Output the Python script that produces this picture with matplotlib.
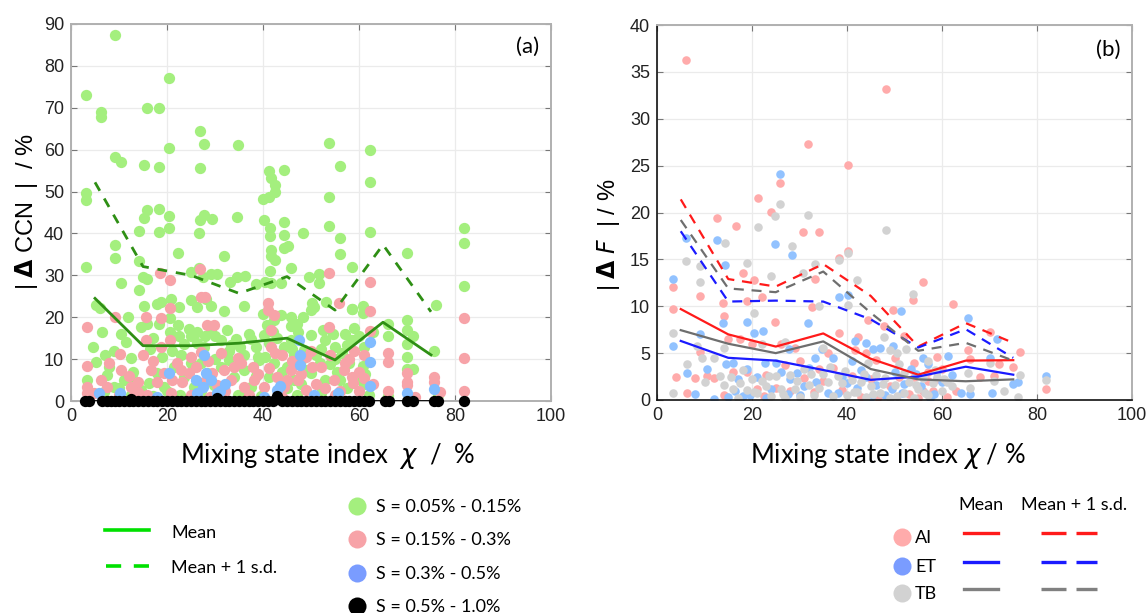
import matplotlib
matplotlib.use("Agg")
import matplotlib.pyplot as plt
from matplotlib.lines import Line2D

W, H = 1147, 613

# ---------------- data: panel (a) ----------------
bins = [5, 15, 25, 35, 45, 55, 65, 75]
a_mean = [24.5, 13.2, 13.2, 13.8, 15.0, 9.8, 18.8, 11.0]
a_mean_sd = [52.2, 32.1, 30.0, 25.7, 29.7, 21.7, 37.3, 21.3]
a_black_mean = [0, 0, 0, 0, 0, 0, 0, 0]

a_green = [(3.1,73.1),(3.1,49.6),(3.1,48),(3.1,32.1),(6.3,69.1),(6.3,67.8),(9.1,87.4),(9.1,58.2),(10.4,57),
    (15.8,69.9),(18.4,69.9),(20.5,77.2),(20.5,60.5),(15.2,56.3),(18.4,55.8),(26.9,64.5),(27.8,61.4),(26.9,55.7),
    (34.7,61.1),(53.8,61.5),(56.1,56),(62.3,59.9),(62.3,52.4),(62.3,40.3),(53.8,48.8),(53.8,41.8),(56.1,38.8),
    (56.1,35),(58.6,32.1),(58.6,22),(41.2,54.8),(41.6,53.2),(42.6,51.6),(42.6,49.8),(40,48.2),(41.2,48.8),(44.3,55.2),
    (40.2,43.2),(41.4,41.2),(41.4,39.3),(44.3,42.7),(44.3,39.6),(45.3,36.9),(44.3,36.5),(41.6,36.1),(41.6,34.5),
    (42.5,33.7),(45.8,31.7),(41.4,31.1),(48.4,40),(81.8,41.2),(81.8,37.7),(81.8,27.5),(70.1,35.3),
    (18.3,45.8),(20.5,44.2),(20.5,41.2),(18.3,40.3),(15.8,45.5),(15.2,43.6),(14.2,40.6),(9.1,37.2),(9.1,34.2),
    (10.4,28.1),(34.6,44),(29.3,43.5),(26.9,43.2),(27.8,44.4),(26.6,40),(31.9,34.5),(22.3,35.3),(14.2,33.4),
    (14.9,29.7),(15.8,29.2),(14.2,26.4),(26.6,31.8),(25,30.9),(27.6,29.7),(29.2,30.3),(30.4,30.3),(33.1,28.5),
    (34.6,29.5),(36.2,29.9),(38.5,27.9),(40.4,28.5),(49.5,29.5),(51.6,30.3),(51.6,28.1),(50.2,23.3),(50.7,22.5),
    (53.2,23.7),(76,22.9),(41.6,28.1),(43.8,28.2),
    (5.2,22.9),(6,22.1),(11.9,20.1),(15.2,22.7),(18,23.1),(18.7,23.7),(20.8,24.3),(22.5,22.5),(24.9,24.1),
    (26.3,22.5),(28.1,24.4),(29.1,22.7),(31.9,21.6),(36,22.7),(40,20.8),(58.5,21.9),(60.8,22.7),(60.8,20.9),
    (50,21.7),(48.4,20.1),(45.8,20.1),(43.7,20.5),
    (14.5,17.7),(15.9,18.5),(18.3,18.5),(20.6,19.7),(20.6,16.5),(22.2,18.1),(22.5,15.4),(24.6,17.3),(24.9,15.4),
    (26.3,16.5),(26.3,13.8),(27.7,13),(29.1,17.3),(30.1,15.4),(31.2,14.6),(32.6,16.9),(33.3,13.4),(34.3,14.9),
    (35.3,13),(37.4,14.7),(38.5,13),(40.2,15.8),(41.3,13.8),(43,15),(44.4,13),(45.8,14.6),(47.2,16.5),(48.5,12.2),
    (50,15.8),(40.9,18.1),(42.3,19.3),(45.8,17.9),(66,18.5),(66,15.4),(69.9,19.3),(69.9,17),(69.9,13.6),
    (69.9,10.6),(71.3,15.4),(75.7,12),(58.5,14.6),(57.4,13.4),(56.4,11.4),(54,8.8),(51.9,9),(52.5,17),(54.5,16),
    (55,13),(52,12.5),(60,15.5),(61,13),(6.5,16.5),(9,12),(10.5,16),(12.5,10.2),(16.5,12.5),(19,10.5),(23,11),
    (36,11),(39,10.5),(46.5,11),
    (5.2,9.4),(3.3,5),(7.6,6.2),(9,3.4),(11,5),(12.8,5.4),(14.5,2.6),(16.3,4.2),(18,6.6),(19.4,3.4),(21.5,8.2),
    (23.5,5.8),(25.6,3.4),(27,9),(28.4,6.6),(29.8,3.8),(31.2,8.2),(32.9,9.8),(34,5.8),(36,7.4),(37.4,3.4),
    (39.2,9.8),(41.3,5.8),(42.3,9),(43.7,3.4),(45,8.2),(46.5,5),(47.9,9.8),(50,6.6),(6.9,2.2),(12.4,1.4),
    (22.8,1.4),(34.7,1.4),(60.8,8.4),(61.2,6.4),(71.3,7.6),(69.9,7.6),(53,5),(55.5,7),(57.5,3),(59.5,5.5),
    (62,1.5),(76.5,1.5),(66,1.2),(52,2),(47,1.5),(39.5,1.2),(30,1.2),(17,1.2),
    (4.5,13),(7,11),(8,8),(11.5,14),(13,7),(17,15),(21,12),(23.5,13.5),(25,9),(28,15.5),(30,10),(33,12),
    (35,8.5),(37,16),(38.5,6),(40.5,10.5),(42,16.5),(44,7),(46,12.5),(47,18.5),(49,7.5),(51,11),(53,14.5),
    (55,10),(57,16),(58,9),(59,17.5),(61,4),(63,16.5),(45,3),(36,1.5),(27,2.5),(20,2.5),(10,3),(56,5),(48,4)]

a_pink = [(3.3,17.7),(3.3,8.4),(3.3,3.4),(3.3,2),(9.1,20.1),(10.3,11.2),(15.6,20),(18.5,30.6),(20.6,28.9),
    (20.6,22.1),(18.7,19.7),(27,24.9),(28,24.9),(28.4,18.1),(29.8,18.1),(26.9,31.4),(20.6,14.6),(15.6,14.6),
    (18.7,13),(27,11.8),(24.9,10.6),(31.2,11.4),(34.7,10.2),(41,21.7),(41,23.5),(42.3,20.5),(41.6,13),(41.6,17),
    (53.7,30.5),(55.9,23.3),(62.3,28.3),(62.3,21.5),(53.7,17.6),(62.3,16.8),(66,11.5),(66,9.3),(66,2.5),
    (69.9,6.8),(69.9,4.6),(69.9,3.8),(75.7,5.8),(75.7,4.6),(81.8,19.7),(81.8,10.2),(81.8,2.5),(71.6,0.9),
    (76.8,2.1),(58.5,5.8),(58.8,4.2),(56.9,7.4),(54.8,5),
    (6.2,5),(7.6,3.4),(10.5,7.4),(12.4,3.4),(13.9,2.2),(16.6,7.4),(18,4.6),(19.4,6.6),(20.8,1.8),(23.2,4.6),
    (24.6,6.6),(26,8.2),(27.7,4.6),(29.4,6.6),(30.5,3.8),(31.9,7.4),(33.3,5),(36,3.4),(38.1,5),(40.2,3.4),
    (41.3,7.8),(43,5.8),(44.4,3.4),(45.8,7.4),(47.2,5),(48.9,2.6),(50.3,8.2),(4.8,1.8),(15.9,1.4),(15,11),
    (14,4.6),(22,9),(35.5,9),(38,8),(44,11),(46,9.5),(49,10.5),(51,4),(53,3),(55,1.5),(57,9),(60,7),(60,2.5),
    (63,4),(61,11),(59,12),(37,1.5),(10,1.5),(25,1.5),(44,1),
    (8,9),(12,6),(17,9.5),(21,5),(23,7.5),(28.5,9.5),(32,2.5),(34,8),(39,6.5),(42.5,11.5),(45,5),(48,6.5),
    (50,12),(52,8),(54,11),(56,2.5),(58,10),(61,5.5),(13,1),(29,1)]

a_blue = [(62.3,14.2),(62.3,9.2),(62.3,3.7),(69.9,2),(75.7,2.9),(47.7,11),(47.6,14.6),(50.6,1.4),(55.6,1.8),
    (20.4,6.6),(27.7,11),(28.1,6.6),(29.1,5),(30.5,1.8),(27.4,3.4),(43,2.6),(43.5,3.5),(47.8,8.6),(5.8,1.8),
    (10.3,1.8),(18,1),(26.3,1.8),(40.2,1),(32,4),(31,2.5),(26,5)]

a_black_x = [3, 3.8, 6.5, 7.4, 8.3, 9.2, 10.1, 11, 12, 12.5, 13, 14, 15, 16, 17, 18, 19, 20, 21, 22, 23, 24, 25, 26,
    27, 28, 29, 30, 30.5, 31, 32, 33, 34, 35, 36, 37, 38, 39, 40, 41, 42, 43, 44, 45, 46, 47, 48, 49, 50, 51,
    52, 53, 54, 55, 56, 57, 58, 59, 60, 61, 62, 65.5, 66.3, 70, 71.2, 75.6, 76.4, 81.8]
a_black_y = [0, 0, 0, 0, 0, 0, 0, 0, 0, 0.4, 0, 0, 0, 0, 0, 0, 0, 0, 0, 0, 0, 0, 0, 0,
    0, 0, 0, 0, 0.6, 0, 0, 0, 0, 0, 0, 0, 0, 0, 0, 0, 0, 1.1, 0, 0, 0, 0, 0, 0, 0, 0,
    0, 0, 0, 0, 0, 0, 0, 0, 0, 0, 0, 0, 0, 0, 0, 0, 0, 0]

# ---------------- data: panel (b) ----------------
b_ai_mean = [9.7, 7.0, 5.7, 7.1, 4.4, 2.7, 4.2, 4.25]
b_ai_sd = [21.4, 12.9, 12.1, 14.5, 11.1, 5.7, 8.2, 6.1]
b_et_mean = [6.3, 4.5, 4.2, 3.2, 2.15, 2.5, 3.55, 2.7]
b_et_sd = [18.0, 10.5, 10.6, 10.5, 8.6, 5.6, 7.55, 4.5]
b_tb_mean = [7.45, 6.0, 5.0, 6.25, 3.3, 2.2, 2.0, 2.2]
b_tb_sd = [19.2, 11.9, 11.5, 13.7, 9.3, 5.25, 6.1, 4.2]

b_ai = [(6.1,36.3),(48.3,33.2),(31.8,27.3),(40.3,25.1),(25.9,23.1),(21.2,21.5),(24.1,20.1),(12.7,19.4),
    (16.7,18.6),(30.8,17.9),(34.1,17.9),(40.2,15.9),(38.3,15.1),(18.2,13.5),(20.5,12.8),(33.3,12.9),(3.3,12.1),
    (3.3,9.7),(9.1,11.1),(13.8,10.3),(18.9,10.6),(14.2,9),(24.8,8.3),(32.6,9.9),(56,12.6),(53.8,10.7),
    (62.3,10.2),(49.7,9.6),(47.7,7.9),(70.1,7.3),(76.5,5.1),(65.4,5.3),(81.8,1.2),(65.9,4.4),(38.3,7.2),
    (42.4,6.7),(41.7,5.3),(9.1,5.1),(8,2.3),(6.4,0.8),(10.6,2.6),(22,11),(17.5,6.5),(20,6),(15,6.5),(26,6),
    (29,5.5),(36,5),(44,5),(46,4.3),(52,6.8),(51,2.5),(54,4),(57,3),(59,2.2),(61,0.3),(63,1),(68,2.5),
    (71,2.6),(72,3.8),(75,3.5),(12,2.4),(14,0.5),(19,3),(21,1.2),(23,2.7),(25,1.3),(27,3.7),(28,1),(31,2.4),
    (33,0.9),(35,2),(37,3.4),(39,1.1),(43,0.3),(45,2.2),(47,0.6),(49,1.5),(53,0.6),(55,0.2),(58,1),(60,3.3),
    (4,2.5),(44.5,8.5),(57,2),
    (16,3),(22.5,0.4),(30,4.2),(34,3.3),(41,2.6),(46.5,0.3),(50,4.5),(54,2.5),(56,1),(59,4.6)]

b_et = [(25.9,24.1),(24.8,16.6),(28.4,15.5),(12.7,17.1),(6.2,17.3),(14.4,14.4),(3.3,12.9),(3.3,5.8),
    (38.3,11),(40.2,11.2),(51.4,9.5),(65.4,8.8),(71.6,6.5),(31.8,8.2),(18.9,8.3),(13.8,8.2),(9.1,7),
    (81.8,2.6),(76.1,1.9),(61.2,4.7),(56,4.5),(41.7,6.3),(43.9,6.1),(45.5,5.4),(49.6,5.8),(6.4,2.9),(8,0.6),
    (12.1,0.1),(10.6,3.3),(20.5,7.2),(22.4,7.4),(22.7,4),(27.7,5.4),(33.3,4.5),(34.8,5.4),(29.5,2.9),
    (70.5,0.8),(65.9,0.6),(58.3,0.6),(16,4),(14.5,3.8),(17,2.2),(19,3.3),(21,2.5),(24,1.2),(26,3),(28,2.2),
    (31,1.5),(32,3.4),(36,0.8),(38,0.7),(40,1.8),(42,1.3),(44,2.5),(46,1.6),(48,0.5),(50,3),(52,1.7),
    (53.5,3.3),(54.5,2.8),(57,3.8),(59,3.1),(62,2.7),(64,0.8),(70,4.5),(75,1.7),(15,0.3),(18,0.4),(23,0.2),
    (30,0.5),(37,4.5),(43,3.2),(47,5.6),
    (16.5,1),(19.5,0.5),(25,4),(27.5,0.6),(33.5,1.9),(39,2.5),(41,4.2),(45,0.3),(49.5,1.2),(51.5,0.8),
    (55.5,1.5),(57.5,0.2),(60,1.9)]

b_tb = [(48.3,18.1),(31.8,19.7),(25.9,20.9),(24.8,19.6),(21.2,18.5),(14.4,16.8),(18.9,14.6),(6.1,14.8),
    (9.1,14.3),(9.1,12.6),(24.1,13.2),(28.4,16.4),(30.8,13.6),(33.3,14.5),(40.2,15.7),(38.3,14.9),(42,12.8),
    (53.8,11.3),(20.5,9.3),(34.1,10),(40.2,10.1),(3.3,7.2),(3.3,0.8),(6.4,3.8),(10.2,1.9),(13.3,2.6),
    (47.7,6.7),(65.4,2.9),(65.9,1.3),(76.1,0.3),(76.5,2.7),(81.8,2.1),(70.1,4),(61,1.9),(12,4.5),(14,5.5),
    (16,1.2),(17,0.2),(18,3.2),(19,1.1),(20,2.2),(21,0.8),(22,2),(23,1.5),(24,0.4),(25,2.6),(26,1.2),(27,0.2),
    (28,2.7),(29,1.2),(30,0.3),(31,3.3),(32,1.6),(33,0.5),(34,1.3),(35,2.8),(36,1.9),(37,0.4),(38,2.6),
    (39,1.8),(40,0.5),(41,2.1),(42,0.9),(43,1.9),(44,0.3),(45,1.5),(46,2.7),(47,0.8),(48,2.4),(49,0.2),
    (50,1.6),(51,3.8),(52,0.7),(53,1.9),(54,0.2),(55,1.2),(56,2.3),(57,0.5),(58,1.8),(59,2.5),(60,1),(62,1.5),
    (49,5.3),(50.5,5),(52.5,5.4),(44.5,4),(27,6.2),(22,6),(9.5,4.5),(8.5,5.8),(57,4.2),(71,2),(73,1),(35,5.5),
    (15.5,2.5),(17.5,1.8),(20.5,0.9),(23.5,2.6),(26.5,0.6),(29.5,2),(32.5,2.8),(36.5,3.5),(39.5,3.1),
    (41.5,0.9),(43.5,2.8),(45.5,0.6),(47.5,1.7),(50.5,0.4),(52,2.9),(54.5,1.6),(56.5,0.8),(58.5,3.2),
    (60.5,2.2),(14,1.6)]

a_xticks = [0, 20, 40, 60, 80, 100]
a_yticks = [0, 10, 20, 30, 40, 50, 60, 70, 80, 90]
b_yticks = [0, 5, 10, 15, 20, 25, 30, 35, 40]

a_legend_labels = ["S = 0.05% - 0.15%", "S = 0.15% - 0.3%", "S = 0.3% - 0.5%", "S = 0.5% - 1.0%"]
b_legend_labels = ["AI", "ET", "TB"]

# ---------------- styles ----------------
C_GREEN, C_PINK, C_BLUE, C_BLACK = "#a4ef7e", "#f7a3a8", "#82bcff", "#000000"
C_AI, C_ET, C_TB = "#ffabab", "#92c2ff", "#d2d2d2"
L_GREEN = "#2e8f14"
L_AI, L_ET, L_TB = "#ff1a1a", "#1a1aff", "#6e6e6e"
TICK_FONT = "Liberation Sans"
LEG_FONT = "Lato"

fig = plt.figure(figsize=(W / 100, H / 100), dpi=100)


def fx(px):
    return px / W


def fy(py):
    return 1 - py / H


def style_axes(ax, xt, yt, ylim, left_dark=False):
    ax.set_xlim(0, 100)
    ax.set_ylim(*ylim)
    ax.set_xticks(xt)
    ax.set_yticks(yt)
    ax.grid(True, color="#ebebeb", lw=0.9)
    ax.set_axisbelow(True)
    for s in ax.spines.values():
        s.set_color("#b0b0b0")
        s.set_linewidth(1.4)
    if left_dark:
        ax.spines["left"].set_color("#111111")
        ax.spines["bottom"].set_color("#111111")
        ax.spines["left"].set_linewidth(1.2)
        ax.spines["bottom"].set_linewidth(1.2)
    ax.tick_params(direction="in", length=4, width=0.8, color="#777777", top=True, right=True,
                   labelsize=13, labelcolor="#222222", pad=5)
    for lab in ax.get_xticklabels() + ax.get_yticklabels():
        lab.set_fontfamily(TICK_FONT)


# ---------------- panel (a) ----------------
ax = fig.add_axes([fx(71), fy(401), 480 / W, 377 / H])
style_axes(ax, a_xticks, a_yticks, (0, 90))
ms_a = 66
ax.scatter([p[0] for p in a_green], [p[1] for p in a_green], s=ms_a, c=C_GREEN, lw=0, zorder=2)
ax.scatter([p[0] for p in a_pink], [p[1] for p in a_pink], s=ms_a, c=C_PINK, lw=0, zorder=2)
ax.scatter([p[0] for p in a_blue], [p[1] for p in a_blue], s=ms_a, c=C_BLUE, lw=0, zorder=2)
ax.scatter(a_black_x, a_black_y, s=ms_a, c=C_BLACK, lw=0, zorder=4, clip_on=False)
ax.plot(bins, a_black_mean, color="black", lw=2.0, zorder=3)
ax.plot(bins, a_mean, color=L_GREEN, lw=2.0, zorder=5)
ax.plot(bins, a_mean_sd, color=L_GREEN, lw=2.0, ls=(0, (3.5, 3.2)), zorder=5)
ax.text(0.975, 0.94, "(a)", transform=ax.transAxes, ha="right", va="center", fontsize=16,
        family=LEG_FONT)

# ---------------- panel (b) ----------------
bx = fig.add_axes([fx(657), fy(400), 475 / W, 375 / H])
style_axes(bx, a_xticks, b_yticks, (0, 40), left_dark=True)
ms_b = 38
bx.scatter([p[0] for p in b_ai], [p[1] for p in b_ai], s=ms_b, c=C_AI, lw=0, zorder=2)
bx.scatter([p[0] for p in b_et], [p[1] for p in b_et], s=ms_b, c=C_ET, lw=0, zorder=2)
bx.scatter([p[0] for p in b_tb], [p[1] for p in b_tb], s=ms_b, c=C_TB, lw=0, zorder=2)
dash_b = (0, (4.5, 3.5))
bx.plot(bins, b_ai_mean, color=L_AI, lw=1.6, zorder=5)
bx.plot(bins, b_et_mean, color=L_ET, lw=1.6, zorder=5)
bx.plot(bins, b_tb_mean, color=L_TB, lw=1.6, zorder=5)
bx.plot(bins, b_ai_sd, color=L_AI, lw=1.6, ls=dash_b, zorder=5)
bx.plot(bins, b_et_sd, color=L_ET, lw=1.6, ls=dash_b, zorder=5)
bx.plot(bins, b_tb_sd, color=L_TB, lw=1.6, ls=dash_b, zorder=5)
bx.text(0.975, 0.935, "(b)", transform=bx.transAxes, ha="right", va="center", fontsize=16,
        family=LEG_FONT)

# ---------------- axis labels ----------------
fig.text(fx(328), fy(456), r"Mixing state index  $\chi$  /  %", ha="center", va="center",
         fontsize=18.5, family=LEG_FONT)
fig.text(fx(888), fy(456), r"Mixing state index $\chi$ / %", ha="center", va="center",
         fontsize=18.5, family=LEG_FONT)
fig.text(fx(27), fy(212), r"| $\mathbf{\Delta}$ CCN  |  / %", rotation=90, ha="center", va="center",
         fontsize=17, family=TICK_FONT)
fig.text(fx(609), fy(235), r"| $\mathbf{\Delta}$ $F$  | / %", rotation=90, ha="center", va="center",
         fontsize=17, family=TICK_FONT)

# ---------------- legend (a) ----------------
fig.add_artist(Line2D([fx(105), fx(149)], [fy(530), fy(530)], color="#00e000", lw=2.6,
                      transform=fig.transFigure))
fig.add_artist(Line2D([fx(106), fx(160)], [fy(566), fy(566)], color="#00e000", lw=2.6,
                      ls=(0, (4.2, 3.5)), transform=fig.transFigure))
fig.text(fx(171), fy(533), "Mean", ha="left", va="center", fontsize=13, family=LEG_FONT)
fig.text(fx(171), fy(568), "Mean + 1 s.d.", ha="left", va="center", fontsize=13, family=LEG_FONT)
leg_a_cols = [C_GREEN, C_PINK, "#7a9cff", C_BLACK]
leg_a_y = [506, 539, 573, 606]
for col, yy, lab in zip(leg_a_cols, leg_a_y, a_legend_labels):
    fig.add_artist(Line2D([fx(357)], [fy(yy)], marker="o", ms=13, mfc=col, mec="none", ls="none",
                          transform=fig.transFigure))
    fig.text(fx(376), fy(yy + 1), lab, ha="left", va="center", fontsize=13, family=LEG_FONT)

# ---------------- legend (b) ----------------
fig.text(fx(981), fy(505), "Mean", ha="center", va="center", fontsize=13, family=LEG_FONT)
fig.text(fx(1074), fy(505), "Mean + 1 s.d.", ha="center", va="center", fontsize=13, family=LEG_FONT)
leg_b_cols = [C_AI, "#7a9cff", C_TB]
leg_b_lines = [L_AI, L_ET, "#808080"]
leg_b_y = [537, 566, 593]
for col, lc, yy, lab in zip(leg_b_cols, leg_b_lines, leg_b_y, b_legend_labels):
    fig.add_artist(Line2D([fx(902)], [fy(yy)], marker="o", ms=13, mfc=col, mec="none", ls="none",
                          transform=fig.transFigure))
    fig.text(fx(915), fy(yy + 1), lab, ha="left", va="center", fontsize=13, family=LEG_FONT)
    fig.add_artist(Line2D([fx(964), fx(998)], [fy(yy - 4), fy(yy - 4)], color=lc, lw=2.4,
                          transform=fig.transFigure))
    fig.add_artist(Line2D([fx(1041), fx(1066)], [fy(yy - 4), fy(yy - 4)], color=lc, lw=2.4,
                          solid_capstyle="butt", transform=fig.transFigure))
    fig.add_artist(Line2D([fx(1076), fx(1097)], [fy(yy - 4), fy(yy - 4)], color=lc, lw=2.4,
                          solid_capstyle="butt", transform=fig.transFigure))

fig.savefig("out.png", dpi=100)
